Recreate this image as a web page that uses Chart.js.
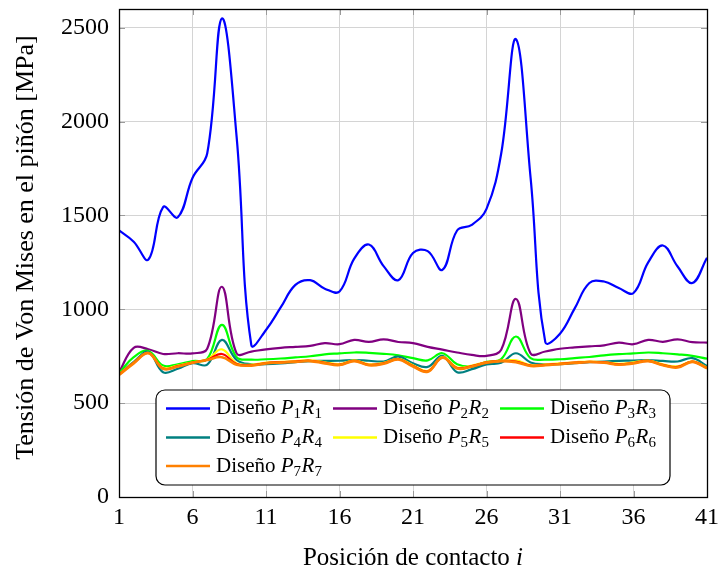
<!DOCTYPE html>
<html>
<head>
<meta charset="utf-8">
<script src="https://cdn.jsdelivr.net/npm/chart.js@4.4.1/dist/chart.umd.min.js"></script>
<style>
html,body{margin:0;padding:0;background:#fff;}
#c{display:block;}
</style>
</head>
<body>
<canvas id="c" width="719" height="569"></canvas>
<script>
// ---- data ----
const posiciones = [1,2,3,4,5,6,7,8,9,10,11,12,13,14,15,16,17,18,19,20,21,22,23,24,25,26,27,28,29,30,31,32,33,34,35,36,37,38,39,40,41];
const xTicks = [1,6,11,16,21,26,31,36,41];
const yTicks = [0,500,1000,1500,2000,2500];
const disenos = ['1','2','3','4','5','6','7'];

const p1r1 = [1420,1360,1265,1545,1490,1700,1830,2550,1920,810,890,1010,1130,1155,1110,1095,1270,1345,1230,1155,1300,1310,1210,1420,1450,1535,1830,2440,1700,825,870,1005,1140,1148,1113,1087,1250,1340,1228,1140,1275];
const p2r2 = [663,795,787,762,766,765,790,1120,765,775,787,795,800,805,820,814,837,826,840,826,820,800,785,770,757,752,785,1055,765,775,790,797,803,808,822,814,837,827,840,825,823];
const p3r3 = [660,745,778,700,707,724,735,917,745,732,734,738,744,750,760,765,770,768,763,755,740,728,766,707,695,720,735,855,740,732,734,740,746,755,761,765,770,766,760,752,737];
const p4r4 = [654,720,773,665,683,713,705,837,730,707,708,712,718,724,725,726,730,726,722,748,712,693,752,665,681,707,715,766,717,707,708,713,718,722,725,727,729,725,722,740,698];
const p5r5 = [655,716,768,688,700,718,733,787,712,705,716,720,724,728,718,708,728,707,715,736,702,672,745,690,700,719,727,728,703,707,712,718,722,719,710,717,727,707,696,723,690];
const p6r6 = [652,714,767,685,697,716,731,762,708,702,714,718,722,726,715,705,726,704,712,734,698,669,743,687,697,717,725,722,700,704,710,716,720,717,707,714,725,704,693,721,687];
const p7r7 = [650,712,766,683,695,715,730,745,705,700,712,716,720,724,712,703,724,702,710,733,695,667,742,685,695,716,724,718,698,702,708,714,719,715,705,712,724,702,690,720,685];

const seriesValues = [p1r1,p2r2,p3r3,p4r4,p5r5,p6r6,p7r7];
const colors = ['#0000ff','#800080','#00ff00','#008080','#ffff00','#ff0000','#ff8000'];
const widths = [2.2,2.2,2.2,2.2,2.2,2.2,2.6];

const SERIF = '"Liberation Serif","DejaVu Serif",serif';

const datasets = seriesValues.map((vals, k) => ({
  label: 'Diseño P' + disenos[k] + 'R' + disenos[k],
  data: posiciones.map((x, i) => ({x: x, y: vals[i]})),
  borderColor: colors[k],
  backgroundColor: colors[k],
  borderWidth: widths[k],
  pointRadius: 0,
  pointHoverRadius: 0,
  tension: 0.4,
  fill: false,
  order: seriesValues.length - k
}));

const framePlugin = {
  id: 'frame',
  afterDraw(chart) {
    const ctx = chart.ctx;
    const a = chart.chartArea;
    const xs = chart.scales.x, ys = chart.scales.y;
    ctx.save();
    // inward tick marks
    ctx.strokeStyle = '#9a9a9a';
    ctx.lineWidth = 1;
    ctx.beginPath();
    yTicks.forEach(v => {
      const y = Math.round(ys.getPixelForValue(v)) + 0.5;
      ctx.moveTo(a.left, y); ctx.lineTo(a.left + 6, y);
      ctx.moveTo(a.right, y); ctx.lineTo(a.right - 6, y);
    });
    xTicks.forEach(v => {
      const x = Math.round(xs.getPixelForValue(v)) + 0.5;
      ctx.moveTo(x, a.bottom); ctx.lineTo(x, a.bottom - 6);
      ctx.moveTo(x, a.top); ctx.lineTo(x, a.top + 6);
    });
    ctx.stroke();
    // frame
    ctx.strokeStyle = '#000';
    ctx.lineWidth = 1.3;
    ctx.strokeRect(Math.round(a.left) + 0.5, Math.round(a.top) + 0.5, Math.round(a.right - a.left), Math.round(a.bottom - a.top));

    // legend box
    const bx = 156, by = 390, bw = 514, bh = 95, r = 9;
    ctx.beginPath();
    ctx.moveTo(bx + r, by);
    ctx.arcTo(bx + bw, by, bx + bw, by + bh, r);
    ctx.arcTo(bx + bw, by + bh, bx, by + bh, r);
    ctx.arcTo(bx, by + bh, bx, by, r);
    ctx.arcTo(bx, by, bx + bw, by, r);
    ctx.closePath();
    ctx.fillStyle = '#fff';
    ctx.fill();
    ctx.strokeStyle = '#000';
    ctx.lineWidth = 1.2;
    ctx.stroke();

    const colX = [166, 333, 500];
    const rowBase = [414, 443, 471.5];
    ctx.textBaseline = 'alphabetic';
    ctx.textAlign = 'left';
    disenos.forEach((n, k) => {
      const col = k % 3, row = Math.floor(k / 3);
      const lx = colX[col], base = rowBase[row];
      ctx.strokeStyle = colors[k];
      ctx.lineWidth = 2.4;
      ctx.beginPath();
      ctx.moveTo(lx, base - 5.5);
      ctx.lineTo(lx + 44, base - 5.5);
      ctx.stroke();
      let x = lx + 50;
      ctx.fillStyle = '#000';
      ctx.font = '21px ' + SERIF;
      ctx.fillText('Diseño ', x, base); x += ctx.measureText('Diseño ').width;
      ctx.font = 'italic 21px ' + SERIF;
      ctx.fillText('P', x, base); x += ctx.measureText('P').width;
      ctx.font = '15px ' + SERIF;
      ctx.fillText(n, x, base + 4); x += ctx.measureText(n).width + 0.5;
      ctx.font = 'italic 21px ' + SERIF;
      ctx.fillText('R', x, base); x += ctx.measureText('R').width;
      ctx.font = '15px ' + SERIF;
      ctx.fillText(n, x, base + 4);
    });

    // x axis title
    ctx.fillStyle = '#000';
    ctx.font = '25px ' + SERIF;
    const t1 = 'Posición de contacto ';
    const w1 = ctx.measureText(t1).width;
    ctx.font = 'italic 25px ' + SERIF;
    const w2 = ctx.measureText('i').width;
    const cx = (a.left + a.right) / 2;
    let sx = cx - (w1 + w2) / 2;
    ctx.font = '25px ' + SERIF;
    ctx.fillText(t1, sx, 565);
    ctx.font = 'italic 25px ' + SERIF;
    ctx.fillText('i', sx + w1, 565);

    // y axis title
    ctx.save();
    ctx.translate(33, 247.5);
    ctx.rotate(-Math.PI / 2);
    ctx.font = '26px ' + SERIF;
    ctx.textAlign = 'center';
    ctx.fillText('Tensión de Von Mises en el piñón [MPa]', 0, 0);
    ctx.restore();

    ctx.restore();
  }
};

new Chart(document.getElementById('c'), {
  type: 'line',
  data: { datasets: datasets },
  options: {
    responsive: false,
    animation: false,
    events: [],
    layout: { padding: { left: 0, right: 12, top: 9, bottom: 0 } },
    plugins: { legend: { display: false }, tooltip: { enabled: false } },
    scales: {
      x: {
        type: 'linear',
        min: 1, max: 41,
        afterBuildTicks: s => { s.ticks = xTicks.map(v => ({ value: v })); },
        afterFit: s => { s.height = 72; s.paddingLeft = 0; s.paddingRight = 0; s.paddingTop = 0; s.paddingBottom = 0; },
        ticks: { font: { family: SERIF, size: 24 }, color: '#000', padding: 6, maxRotation: 0, autoSkip: false, callback: v => String(v) },
        grid: { color: '#d4d4d4', lineWidth: 1, drawTicks: false },
        border: { display: true, color: '#000', width: 1 }
      },
      y: {
        type: 'linear',
        min: 0, max: 2600,
        afterBuildTicks: s => { s.ticks = yTicks.map(v => ({ value: v })); },
        afterFit: s => { s.width = 119; s.paddingLeft = 0; s.paddingRight = 0; s.paddingTop = 0; s.paddingBottom = 0; },
        ticks: { font: { family: SERIF, size: 24 }, color: '#000', padding: 10, callback: v => String(v) },
        grid: { color: '#d4d4d4', lineWidth: 1, drawTicks: false },
        border: { display: true, color: '#000', width: 1 }
      }
    }
  },
  plugins: [framePlugin]
});
</script>
</body>
</html>
